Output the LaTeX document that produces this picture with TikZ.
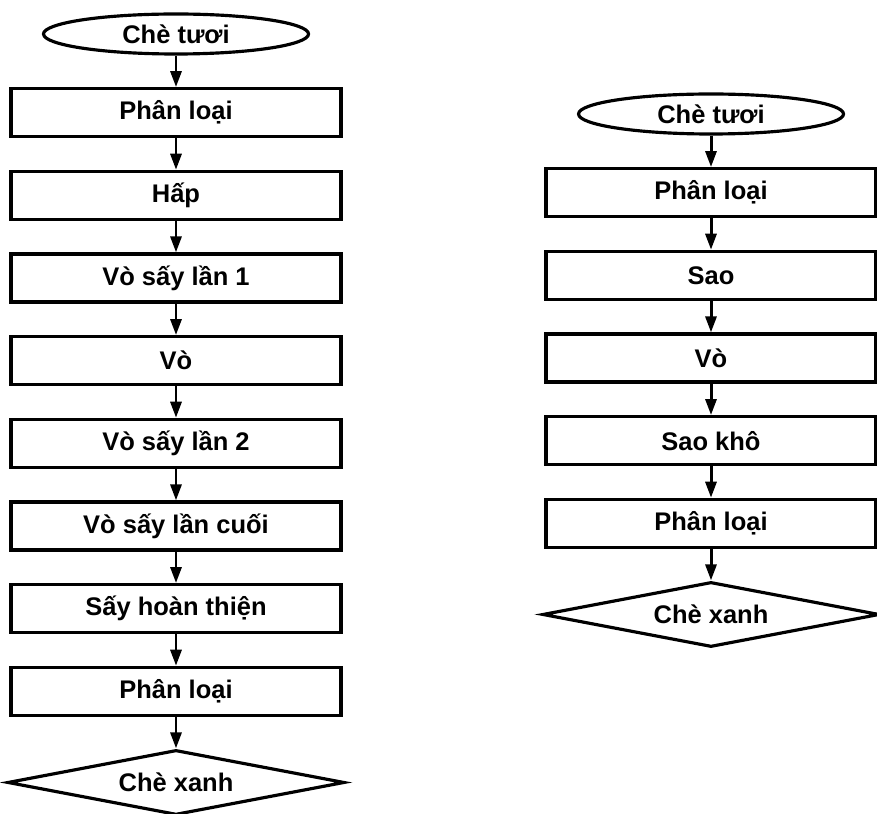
\documentclass[tikz,border=0pt]{standalone}
\usepackage{fontspec}
\setmainfont{Liberation Sans}
\usepackage{tikz}
\usetikzlibrary{arrows.meta,positioning,shapes.geometric}
\tikzset{
  % Base styles
  flow base/.style={
    x=0.2mm, y=-0.2mm,
    every node/.style={font=\fontsize{14.5}{16}\selectfont\bfseries},
    node distance=6.3mm,
  },
  % Flowchart nodes
  input node/.style={ellipse, draw, line width=1.8pt, minimum width=53mm, minimum height=8mm, inner sep=0pt},
  proc box/.style={rectangle, draw, line width=1.8pt, minimum width=66mm, minimum height=9.6mm, inner sep=2pt},
  output node/.style={diamond, draw, line width=1.8pt, aspect=5, minimum width=67.4mm, minimum height=13mm, inner sep=0pt},
  % Connectors
  flow arrow/.style={-{Triangle[length=3.2mm,width=2.2mm]}, line width=1.7pt},
}

\begin{document}
\begin{tikzpicture}[flow base]
  \useasboundingbox (0,0) rectangle (877,814);
  % left column
  \node[input node] (L0) at (176,34) {Chè tươi};
  \node[proc box, below=of L0] (L1) {Phân loại};
  \node[proc box, below=of L1] (L2) {Hấp};
  \node[proc box, below=of L2] (L3) {Vò sấy lần 1};
  \node[proc box, below=of L3] (L4) {Vò};
  \node[proc box, below=of L4] (L5) {Vò sấy lần 2};
  \node[proc box, below=of L5] (L6) {Vò sấy lần cuối};
  \node[proc box, below=of L6] (L7) {Sấy hoàn thiện};
  \node[proc box, below=of L7] (L8) {Phân loại};
  \node[output node, below=of L8] (L9) {Chè xanh};
  \draw[flow arrow] (L0) -- (L1);
  \draw[flow arrow] (L1) -- (L2);
  \draw[flow arrow] (L2) -- (L3);
  \draw[flow arrow] (L3) -- (L4);
  \draw[flow arrow] (L4) -- (L5);
  \draw[flow arrow] (L5) -- (L6);
  \draw[flow arrow] (L6) -- (L7);
  \draw[flow arrow] (L7) -- (L8);
  \draw[flow arrow] (L8) -- (L9);
  % right column
  \node[input node] (R0) at (711,114) {Chè tươi};
  \node[proc box, below=of R0] (R1) {Phân loại};
  \node[proc box, below=of R1] (R2) {Sao};
  \node[proc box, below=of R2] (R3) {Vò};
  \node[proc box, below=of R3] (R4) {Sao khô};
  \node[proc box, below=of R4] (R5) {Phân loại};
  \node[output node, below=of R5] (R6) {Chè xanh};
  \draw[flow arrow] (R0) -- (R1);
  \draw[flow arrow] (R1) -- (R2);
  \draw[flow arrow] (R2) -- (R3);
  \draw[flow arrow] (R3) -- (R4);
  \draw[flow arrow] (R4) -- (R5);
  \draw[flow arrow] (R5) -- (R6);
\end{tikzpicture}
\end{document}
